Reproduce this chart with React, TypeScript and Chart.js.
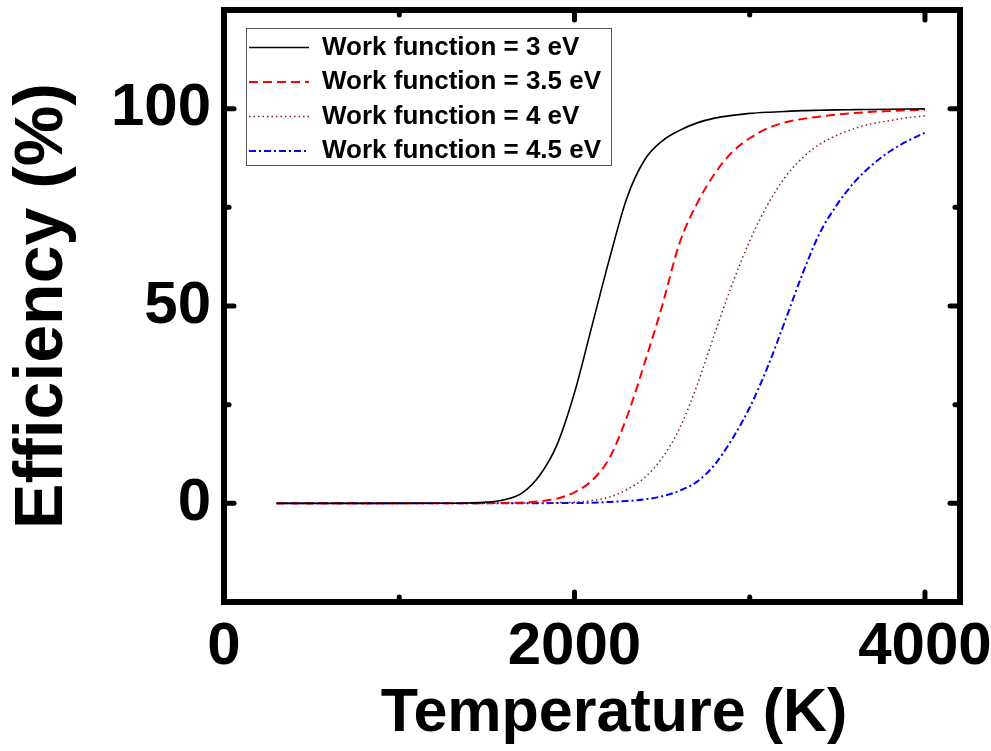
import React, { useEffect, useRef } from "react";
import { Chart, registerables } from "chart.js";

Chart.register(...registerables);

const temperatures = [300, 600, 900, 1200, 1400, 1500, 1600, 1700, 1800, 1900, 2000, 2100, 2200, 2300, 2400, 2500, 2600, 2700, 2800, 2900, 3000, 3100, 3200, 3300, 3400, 3500, 3600, 3700, 3800, 3900, 4000];
const eff3 = [0, 0, 0, 0.02, 0.1, 0.3, 0.9, 2.6, 7.0, 14.8, 28, 45, 62, 77.5, 87, 91.8, 94.5, 96.4, 97.6, 98.3, 98.8, 99.1, 99.3, 99.5, 99.6, 99.7, 99.75, 99.8, 99.85, 99.9, 99.95];
const eff35 = [0, 0, 0, 0, 0.02, 0.05, 0.1, 0.2, 0.5, 1.2, 2.8, 5.8, 11.5, 22, 35.5, 50, 66, 76, 83.5, 89, 92.5, 95, 96.5, 97.4, 98, 98.5, 98.9, 99.2, 99.4, 99.6, 99.7];
const eff4 = [0, 0, 0, 0, 0, 0, 0.02, 0.05, 0.1, 0.18, 0.3, 0.7, 1.6, 3.5, 6.5, 11.5, 19, 30, 43, 55.5, 66.5, 75.5, 82.5, 87.5, 91, 93.3, 95, 96.2, 97, 97.7, 98.2];
const eff45 = [0, 0, 0, 0, 0, 0, 0, 0.01, 0.03, 0.07, 0.1, 0.15, 0.35, 0.6, 1.0, 1.8, 3.2, 5.5, 9.8, 16.3, 24.3, 34.3, 46, 58, 68.5, 75.8, 81.5, 85.8, 89.2, 91.8, 93.9];

const seriesLabels = ["Work function = 3 eV", "Work function = 3.5 eV", "Work function = 4 eV", "Work function = 4.5 eV"];
const xTickValues = [0, 2000, 4000];
const xMinorValues = [1000, 3000];
const yTickValues = [0, 50, 100];
const yMinorValues = [25, 75];

const FONT = "'Liberation Sans', Arial, sans-serif";
const LEGEND_FONT_SIZE = 26;
const LEGEND_PAD = 8.5;
const LEGEND_LINE_W = 60;

const toPoints = (vals: number[]) => vals.map((v, i) => ({ x: temperatures[i], y: v }));

const framePlugin = {
  id: "frameTicks",
  afterLayout(chart: any) {
    const lg = chart.legend;
    const a = chart.chartArea;
    if (lg) {
      const w = lg.right - lg.left;
      const h = lg.bottom - lg.top;
      lg.left = a.left + 16.5;
      lg.right = lg.left + w;
      lg.top = a.top + 16;
      lg.bottom = lg.top + h;
    }
    const xs = chart.scales.x;
    if (xs && !xs.__shifted) {
      const orig = xs.drawTitle.bind(xs);
      xs.drawTitle = (...args: any[]) => {
        const ctx = chart.ctx;
        ctx.save();
        ctx.translate(22, 0);
        orig(...args);
        ctx.restore();
      };
      xs.__shifted = true;
    }
  },
  afterDraw(chart: any) {
    const { ctx, chartArea: a, scales } = chart;
    ctx.save();
    ctx.strokeStyle = "#000";
    ctx.lineCap = "round";
    ctx.lineWidth = 5;
    const tick = (x1: number, y1: number, x2: number, y2: number) => {
      ctx.beginPath();
      ctx.moveTo(x1, y1);
      ctx.lineTo(x2, y2);
      ctx.stroke();
    };
    const drawX = (vals: number[], len: number) => {
      vals.forEach((v) => {
        const px = scales.x.getPixelForValue(v);
        tick(px, a.bottom, px, a.bottom - len);
        tick(px, a.top, px, a.top + len);
      });
    };
    const drawY = (vals: number[], len: number) => {
      vals.forEach((v) => {
        const py = scales.y.getPixelForValue(v);
        tick(a.left, py, a.left + len, py);
        tick(a.right, py, a.right - len, py);
      });
    };
    drawX(xTickValues, 10);
    drawX(xMinorValues, 5);
    drawY(yTickValues, 10);
    drawY(yMinorValues, 5);
    ctx.lineCap = "butt";
    ctx.lineJoin = "miter";
    ctx.lineWidth = 6;
    ctx.strokeRect(a.left, a.top, a.right - a.left, a.bottom - a.top);

    const lg = chart.legend;
    if (lg) {
      ctx.font = `bold ${LEGEND_FONT_SIZE}px ${FONT}`;
      let maxW = 0;
      seriesLabels.forEach((t) => {
        maxW = Math.max(maxW, ctx.measureText(t).width);
      });
      const x0 = lg.left + LEGEND_PAD - 3;
      const y0 = lg.top + LEGEND_PAD - 6.5;
      const x1 = lg.left + LEGEND_PAD + LEGEND_LINE_W + LEGEND_FONT_SIZE / 2 + maxW + 10;
      const y1 = lg.top + LEGEND_PAD + 3 * (LEGEND_FONT_SIZE + LEGEND_PAD) + LEGEND_FONT_SIZE + 1;
      ctx.lineWidth = 1;
      ctx.strokeStyle = "#555";
      ctx.strokeRect(Math.round(x0) + 0.5, Math.round(y0) + 0.5, Math.round(x1 - x0), Math.round(y1 - y0));
    }
    ctx.restore();
  },
};

export default function App() {
  const canvasRef = useRef<HTMLCanvasElement | null>(null);

  useEffect(() => {
    const canvas = canvasRef.current;
    if (!canvas) return;
    const chart = new Chart(canvas, {
      type: "line",
      data: {
        datasets: [
          {
            label: seriesLabels[0],
            data: toPoints(eff3),
            borderColor: "#000000",
            backgroundColor: "#000000",
            borderWidth: 1.6,
            pointRadius: 0,
            cubicInterpolationMode: "monotone",
          },
          {
            label: seriesLabels[1],
            data: toPoints(eff35),
            borderColor: "#ff0000",
            backgroundColor: "#ff0000",
            borderWidth: 2,
            borderDash: [9, 5],
            pointRadius: 0,
            cubicInterpolationMode: "monotone",
          },
          {
            label: seriesLabels[2],
            data: toPoints(eff4),
            borderColor: "#8b1a1a",
            backgroundColor: "#8b1a1a",
            borderWidth: 1.5,
            borderDash: [1.5, 3],
            pointRadius: 0,
            cubicInterpolationMode: "monotone",
          },
          {
            label: seriesLabels[3],
            data: toPoints(eff45),
            borderColor: "#0000ff",
            backgroundColor: "#0000ff",
            borderWidth: 2,
            borderDash: [7, 3, 2, 3],
            pointRadius: 0,
            cubicInterpolationMode: "monotone",
          },
        ],
      },
      options: {
        animation: false,
        responsive: false,
        devicePixelRatio: 1,
        layout: { padding: { left: 0, top: 10, right: 31, bottom: 0 } },
        plugins: {
          tooltip: { enabled: false },
          legend: {
            position: "chartArea",
            align: "start",
            labels: {
              usePointStyle: true,
              pointStyle: "line",
              pointStyleWidth: LEGEND_LINE_W,
              padding: LEGEND_PAD,
              color: "#000",
              font: { family: FONT, size: LEGEND_FONT_SIZE, weight: "bold" },
              generateLabels: (ch: any) => {
                const items = (Chart as any).defaults.plugins.legend.labels.generateLabels(ch);
                return items.map((it: any) => {
                  const ds = ch.data.datasets[it.datasetIndex];
                  return {
                    ...it,
                    pointStyle: "line",
                    lineDash: ds.borderDash || [],
                    lineWidth: ds.borderWidth,
                    strokeStyle: ds.borderColor,
                    fillStyle: ds.borderColor,
                  };
                });
              },
            },
          },
        },
        scales: {
          x: {
            type: "linear",
            min: 0,
            max: 4200,
            afterBuildTicks: (scale: any) => {
              scale.ticks = xTickValues.map((v) => ({ value: v }));
            },
            afterFit: (scale: any) => {
              scale.height = 149;
              scale.paddingLeft = 0;
              scale.paddingRight = 0;
            },
            grid: { display: false, drawTicks: false },
            border: { display: false },
            ticks: {
              padding: 9,
              color: "#000",
              maxRotation: 0,
              autoSkip: false,
              callback: (v: any) => String(v),
              font: { family: FONT, size: 60, weight: "bold" },
            },
            title: {
              display: true,
              text: "Temperature (K)",
              color: "#000",
              padding: { top: 0, bottom: 0 },
              font: { family: FONT, size: 61, weight: "bold" },
            },
          },
          y: {
            type: "linear",
            min: -25,
            max: 125,
            afterBuildTicks: (scale: any) => {
              scale.ticks = yTickValues.map((v) => ({ value: v }));
            },
            afterFit: (scale: any) => {
              scale.width = 224;
              scale.paddingTop = 0;
              scale.paddingBottom = 0;
            },
            grid: { display: false, drawTicks: false },
            border: { display: false },
            ticks: {
              padding: 13,
              color: "#000",
              autoSkip: false,
              callback: (v: any) => String(v),
              font: { family: FONT, size: 60, weight: "bold" },
            },
            title: {
              display: true,
              text: "Efficiency (%)",
              color: "#000",
              padding: { top: 2, bottom: 0 },
              font: { family: FONT, size: 68, weight: "bold" },
            },
          },
        },
      },
      plugins: [framePlugin],
    } as any);
    return () => chart.destroy();
  }, []);

  return (
    <div style={{ position: "absolute", left: 0, top: 0, width: 991, height: 751, background: "#fff" }}>
      <canvas ref={canvasRef} width={991} height={751} />
    </div>
  );
}
